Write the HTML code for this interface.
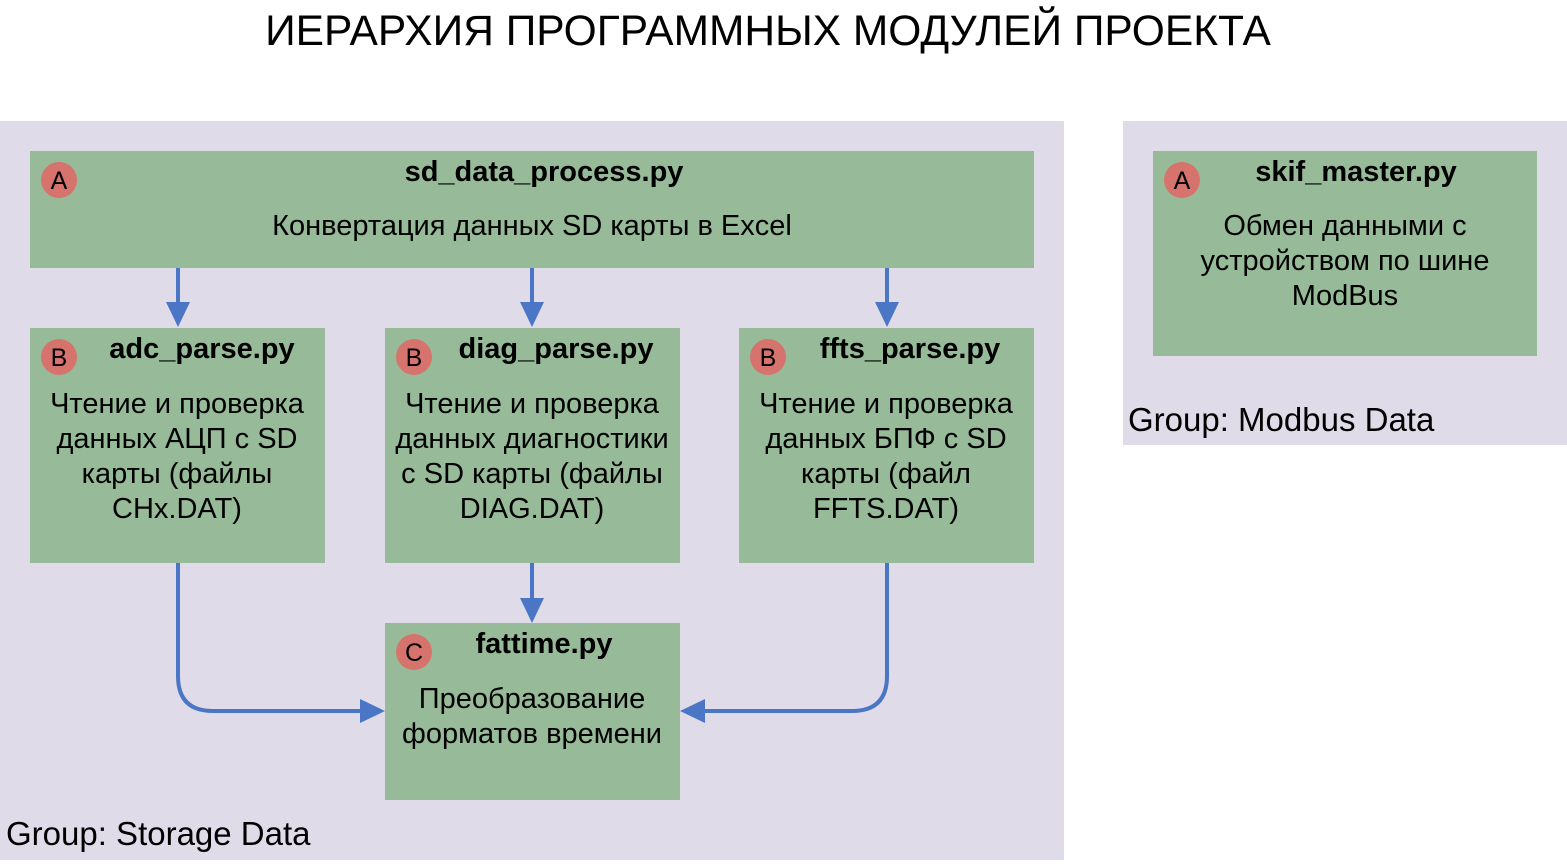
<!DOCTYPE html>
<html><head><meta charset="utf-8"><style>
body{margin:0;width:1567px;height:860px;background:#fff;overflow:hidden}
</style></head><body>
<svg width="1567" height="860" xmlns="http://www.w3.org/2000/svg" font-family="Liberation Sans, sans-serif">
<text x="768" y="45" font-size="42.5" text-anchor="middle">ИЕРАРХИЯ ПРОГРАММНЫХ МОДУЛЕЙ ПРОЕКТА</text>
<rect x="0" y="121" width="1064" height="739" fill="#e0dbe8"/>
<rect x="1123" y="121" width="444" height="324" fill="#e0dbe8"/>
<text x="6" y="845" font-size="33">Group: Storage Data</text>
<text x="1128" y="431" font-size="33">Group: Modbus Data</text>
<g fill="#97bb98">
<rect x="30" y="151" width="1004" height="117"/>
<rect x="30" y="328" width="295" height="235"/>
<rect x="385" y="328" width="295" height="235"/>
<rect x="739" y="328" width="295" height="235"/>
<rect x="385" y="623" width="295" height="177"/>
<rect x="1153" y="151" width="384" height="205"/>
</g>
<g fill="#d6736c">
<circle cx="59" cy="180" r="18"/><circle cx="59" cy="357" r="18"/><circle cx="414" cy="357" r="18"/>
<circle cx="768" cy="357" r="18"/><circle cx="414" cy="652" r="18"/><circle cx="1182" cy="180" r="18"/>
</g>
<g font-size="25" text-anchor="middle">
<text x="59" y="189">A</text><text x="59" y="366">B</text><text x="414" y="366">B</text>
<text x="768" y="366">B</text><text x="414" y="661">C</text><text x="1182" y="189">A</text>
</g>
<g font-size="29" font-weight="bold" text-anchor="middle">
<text x="544" y="181">sd_data_process.py</text>
<text x="202" y="358">adc_parse.py</text>
<text x="556" y="358">diag_parse.py</text>
<text x="910" y="358">ffts_parse.py</text>
<text x="544" y="653">fattime.py</text>
<text x="1356" y="181">skif_master.py</text>
</g>
<g font-size="29" text-anchor="middle">
<text x="532" y="235">Конвертация данных SD карты в Excel</text>
<text x="177" y="413">Чтение и проверка</text><text x="177" y="448">данных АЦП с SD</text><text x="177" y="483">карты (файлы</text><text x="177" y="518">CHx.DAT)</text>
<text x="532" y="413">Чтение и проверка</text><text x="532" y="448">данных диагностики</text><text x="532" y="483">с SD карты (файлы</text><text x="532" y="518">DIAG.DAT)</text>
<text x="886" y="413">Чтение и проверка</text><text x="886" y="448">данных БПФ с SD</text><text x="886" y="483">карты (файл</text><text x="886" y="518">FFTS.DAT)</text>
<text x="532" y="708">Преобразование</text><text x="532" y="743">форматов времени</text>
<text x="1345" y="235">Обмен данными с</text><text x="1345" y="270">устройством по шине</text><text x="1345" y="305">ModBus</text>
</g>
<g stroke="#4a76c5" stroke-width="4" fill="none">
<path d="M178 268V305"/><path d="M532 268V305"/><path d="M887 268V305"/><path d="M532 563V600"/>
<path d="M178 563V676Q178 711 213 711H362"/>
<path d="M887 563V676Q887 711 852 711H703"/>
</g>
<g fill="#4a76c5">
<path d="M166 302H190L178 327Z"/><path d="M520 302H544L532 327Z"/><path d="M875 302H899L887 327Z"/>
<path d="M520 598H544L532 623Z"/>
<path d="M360 699V723L385 711Z"/><path d="M705 699V723L680 711Z"/>
</g>
</svg>
</body></html>
